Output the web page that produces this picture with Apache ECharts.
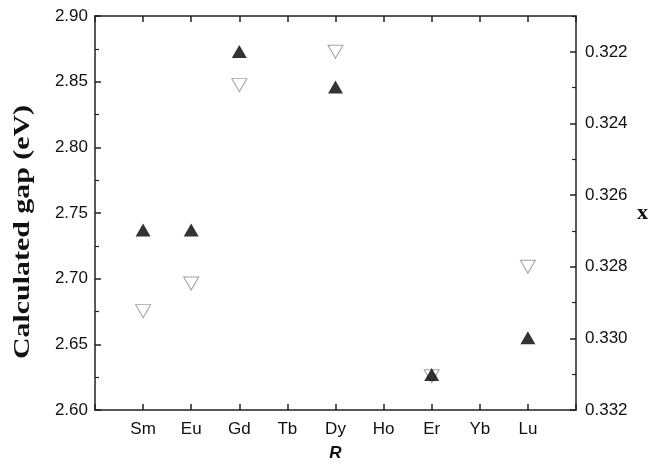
<!DOCTYPE html>
<html>
<head>
<meta charset="UTF-8">
<title>Calculated gap</title>
<script src="https://cdn.jsdelivr.net/npm/echarts@6/dist/echarts.min.js"></script>
<style>body{margin:0;background:#fff;}</style>
</head>
<body>
<div id="main" style="width:650px;height:468px;"></div>
<script type="text/javascript">
// rare-earth labels, empty slots pad the two ends
var categories = ['', 'Sm', 'Eu', 'Gd', 'Tb', 'Dy', 'Ho', 'Er', 'Yb', 'Lu', ''];
// calculated gap (eV), left axis
var gapValues = [null, 2.737, 2.737, 2.873, null, 2.846, null, 2.627, null, 2.655, null];
// x, right axis (inverted)
var xValues = [null, 0.32924, 0.32847, 0.32293, null, 0.32200, null, 0.33106, null, 0.32800, null];
var rightMajor = [0.322, 0.324, 0.326, 0.328, 0.330, 0.332];
var rightMinor = [0.321, 0.323, 0.325, 0.327, 0.329, 0.331];

var myChart = echarts.init(document.getElementById('main'));
var lineCol = '#222';
var tickFont = {fontFamily: 'Liberation Sans', fontSize: 17, color: '#111'};

var option = {
    animation: false,
    grid: {left: 95, top: 16, right: 74, bottom: 58, containLabel: false, outerBoundsMode: 'none'},
    // left title drawn as text so it can be widened like the original
    graphic: [{
        type: 'text',
        x: 23,
        y: 232,
        rotation: Math.PI / 2,
        scaleX: 1.3,
        style: {
            text: 'Calculated gap (eV)',
            font: 'bold 23px "Liberation Serif"',
            fill: '#111',
            align: 'center',
            verticalAlign: 'middle'
        }
    }],
    xAxis: [
        {
            type: 'category',
            data: categories,
            boundaryGap: false,
            name: 'R',
            nameLocation: 'middle',
            nameGap: 35,
            nameTextStyle: {fontFamily: 'Liberation Sans', fontSize: 17, fontWeight: 'bold', fontStyle: 'italic', color: '#111'},
            axisLine: {lineStyle: {color: lineCol, width: 1.5}},
            axisTick: {inside: true, length: 6, alignWithLabel: true, lineStyle: {color: lineCol, width: 1.5}},
            axisLabel: Object.assign({margin: 11, interval: 0}, tickFont),
            splitLine: {show: false}
        },
        {
            type: 'category',
            data: categories,
            boundaryGap: false,
            position: 'top',
            axisLine: {lineStyle: {color: lineCol, width: 1.5}},
            axisTick: {inside: true, length: 6, lineStyle: {color: lineCol, width: 1.5}},
            axisLabel: {show: false},
            splitLine: {show: false}
        }
    ],
    yAxis: [
        {
            type: 'value',
            min: 2.60,
            max: 2.90,
            interval: 0.05,
            axisLine: {show: true, lineStyle: {color: lineCol, width: 1.5}},
            axisTick: {show: true, inside: true, length: 6, lineStyle: {color: lineCol, width: 1.5}},
            minorTick: {show: true, splitNumber: 2, length: 4, lineStyle: {color: lineCol, width: 1.2}},
            axisLabel: Object.assign({margin: 7, formatter: function (v) { return v.toFixed(2); }}, tickFont),
            splitLine: {show: false}
        },
        {
            type: 'value',
            position: 'right',
            inverse: true,
            min: 0.321,
            max: 0.332,
            name: 'x',
            nameLocation: 'middle',
            nameGap: 61,
            nameRotate: 0,
            nameTextStyle: {fontFamily: 'Liberation Serif', fontSize: 22, fontWeight: 'bold', color: '#111'},
            axisLine: {show: true, lineStyle: {color: lineCol, width: 1.5}},
            axisTick: {show: true, inside: true, length: 6, customValues: rightMajor, lineStyle: {color: lineCol, width: 1.5}},
            axisLabel: Object.assign({margin: 9, customValues: rightMajor, formatter: function (v) { return v.toFixed(3); }}, tickFont),
            splitLine: {show: false}
        },
        {
            type: 'value',
            position: 'right',
            inverse: true,
            min: 0.321,
            max: 0.332,
            axisLine: {show: false},
            axisTick: {show: true, inside: true, length: 4, customValues: rightMinor, lineStyle: {color: lineCol, width: 1.2}},
            axisLabel: {show: false},
            splitLine: {show: false}
        }
    ],
    series: [
        {
            name: 'x',
            type: 'scatter',
            yAxisIndex: 1,
            data: xValues,
            symbol: 'triangle',
            symbolRotate: 180,
            symbolSize: [15, 13],
            itemStyle: {color: '#fff', borderColor: '#888', borderWidth: 1}
        },
        {
            name: 'gap',
            type: 'scatter',
            yAxisIndex: 0,
            data: gapValues,
            symbol: 'triangle',
            symbolSize: [15, 13],
            itemStyle: {color: '#000'}
        }
    ]
};
myChart.setOption(option);
</script>
</body>
</html>
